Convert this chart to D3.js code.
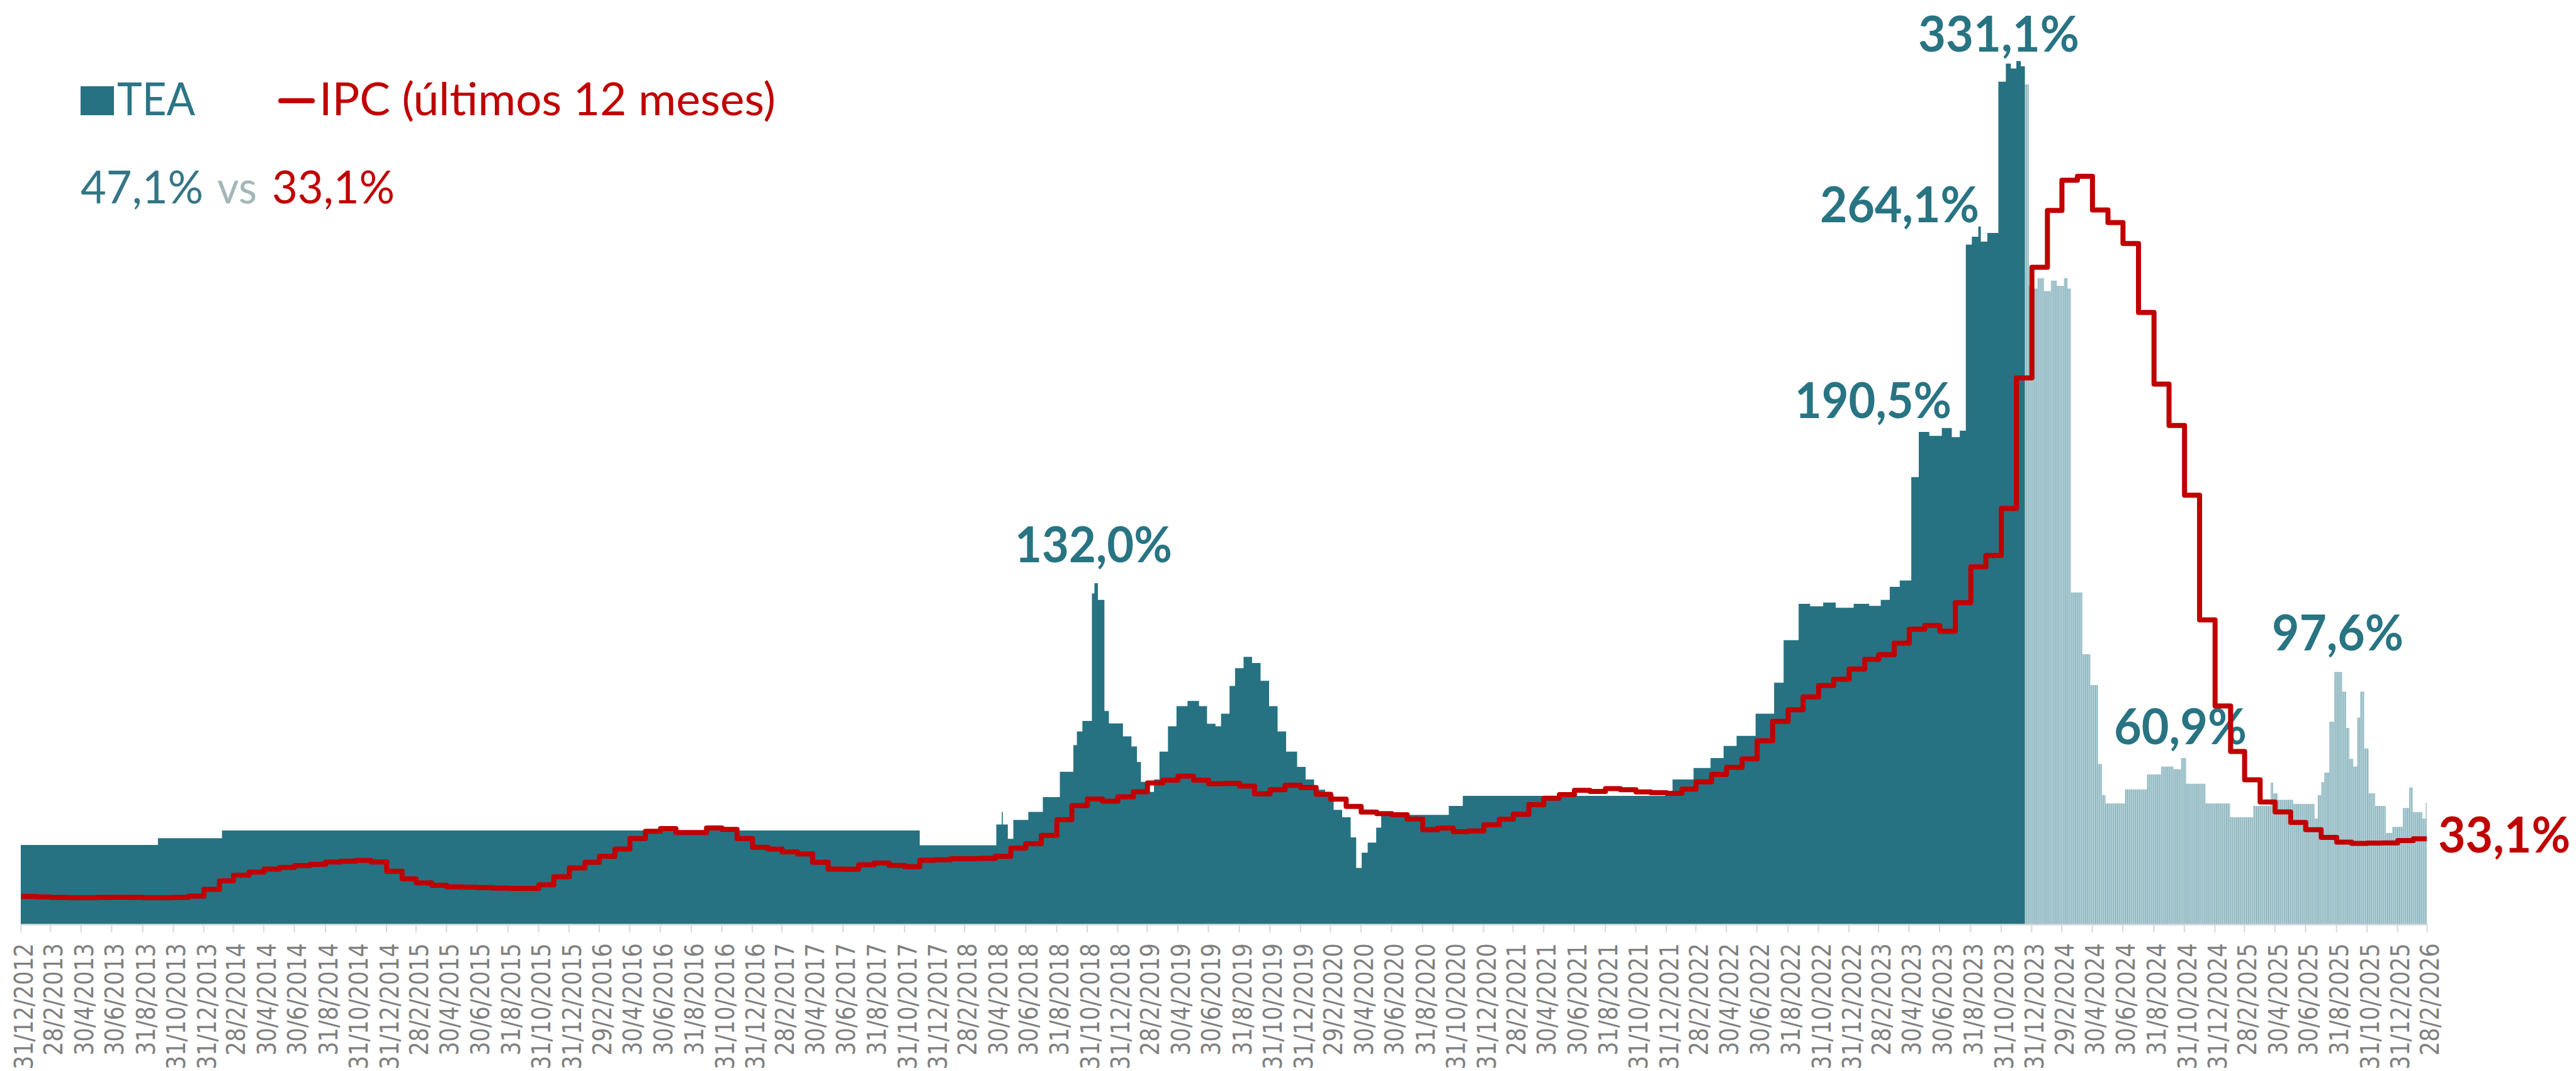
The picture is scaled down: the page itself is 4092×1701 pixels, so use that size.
<!DOCTYPE html>
<html>
<head>
<meta charset="utf-8">
<script src="https://cdn.jsdelivr.net/npm/d3@7"></script>
<style>
  html, body { margin: 0; padding: 0; background: #fff; }
  svg { display: block; }
</style>
</head>
<body>
<svg id="chart" width="4092" height="1701"></svg>
<script>
// IPC, variacion de los ultimos 12 meses, un valor por mes desde ene-2013
var ipcStart = '2013-01-01';
var ipcValues = [
    10.8, 10.6, 10.4, 10.3, 10.3, 10.4, 10.5, 10.4, 10.3, 10.3, 10.4, 10.9,
    13.5, 16.8, 19.0, 20.2, 21.4, 22.0, 22.7, 23.2, 24.1, 24.4, 24.7, 24.1,
    20.5, 17.6, 16.0, 15.1, 14.5, 14.4, 14.2, 14.0, 13.9, 13.9, 15.3, 18.4,
    21.8, 24.0, 26.3, 29.1, 33.2, 36.0, 37.0, 35.5, 35.5, 37.3, 36.7, 33.2,
    29.8, 29.1, 28.0, 27.2, 24.0, 21.4, 21.3, 23.0, 23.7, 22.8, 22.3, 24.8,
    25.0, 25.4, 25.4, 25.5, 26.3, 29.5, 31.2, 34.4, 40.5, 45.9, 48.5, 47.6,
    49.3, 51.3, 54.7, 55.8, 57.3, 55.8, 54.4, 54.5, 53.5, 50.5, 52.1, 53.8,
    52.9, 50.3, 48.4, 45.6, 43.4, 42.8, 42.4, 40.7, 36.6, 37.2, 35.8, 36.1,
    38.5, 40.7, 42.6, 46.3, 48.8, 50.2, 51.8, 51.4, 52.5, 52.1, 51.2, 50.9,
    50.7, 52.3, 55.1, 58.0, 60.7, 64.0, 71.0, 78.5, 83.0, 88.0, 92.4, 94.8,
    98.8, 102.5, 104.3, 108.8, 114.2, 115.6, 113.4, 124.4, 138.3, 142.7, 160.9, 211.4,
    254.2, 276.2, 287.9, 289.4, 276.4, 271.5, 263.4, 236.7, 209.0, 193.0, 166.0, 117.8,
    84.5, 66.9, 55.9, 47.3, 43.5, 39.4, 36.6, 33.6, 31.8, 31.3, 31.4, 31.5,
    32.4, 33.1
];

// TEA, tramo oscuro (hasta dic-2023): [fecha, valor]
var teaDark = [
    ['2012-12-31', 30.7], ['2013-10-01', 33.3], ['2014-02-06', 36.3],
    ['2017-12-01', 30.6], ['2018-05-03', 38.6], ['2018-05-14', 43.5],
    ['2018-05-16', 38.6], ['2018-05-26', 33.1], ['2018-06-06', 40.4],
    ['2018-07-06', 43.5], ['2018-08-04', 49.2], ['2018-09-07', 59.0],
    ['2018-10-04', 69.3], ['2018-10-11', 74.6], ['2018-10-22', 78.7],
    ['2018-11-10', 128.0], ['2018-11-15', 132.0], ['2018-11-22', 125.5],
    ['2018-12-05', 82.5], ['2018-12-14', 77.7], ['2019-01-11', 72.7],
    ['2019-01-28', 68.8], ['2019-02-08', 62.8], ['2019-02-16', 55.1],
    ['2019-02-25', 51.2], ['2019-03-14', 56.0], ['2019-03-25', 66.8],
    ['2019-04-11', 76.6], ['2019-04-28', 84.4], ['2019-05-20', 86.4],
    ['2019-06-12', 84.4], ['2019-06-28', 77.6], ['2019-07-15', 76.6],
    ['2019-07-26', 81.5], ['2019-08-12', 92.2], ['2019-08-23', 99.1],
    ['2019-09-09', 103.5], ['2019-09-26', 101.1], ['2019-10-13', 94.2],
    ['2019-10-30', 84.4], ['2019-11-16', 74.6], ['2019-12-03', 66.8],
    ['2019-12-25', 60.9], ['2020-01-11', 56.0], ['2020-01-28', 52.1],
    ['2020-02-19', 50.2], ['2020-03-07', 44.3], ['2020-03-24', 41.4],
    ['2020-04-10', 33.6], ['2020-04-21', 21.8], ['2020-05-02', 27.7],
    ['2020-05-14', 31.6], ['2020-05-31', 37.4], ['2020-06-10', 42.3],
    ['2020-10-23', 45.8], ['2020-11-20', 49.7], ['2022-01-13', 56.0],
    ['2022-02-24', 60.5], ['2022-03-30', 64.3], ['2022-04-25', 69.0],
    ['2022-05-21', 72.9], ['2022-06-28', 81.5], ['2022-08-04', 93.5],
    ['2022-08-23', 109.9], ['2022-09-22', 124.0], ['2022-10-15', 123.0],
    ['2022-11-10', 124.5], ['2022-12-05', 122.5], ['2023-01-10', 124.0],
    ['2023-02-10', 123.2], ['2023-03-05', 125.5], ['2023-03-23', 130.6],
    ['2023-04-12', 133.0], ['2023-05-05', 173.0], ['2023-05-20', 190.5],
    ['2023-06-10', 189.0], ['2023-07-05', 192.0], ['2023-07-25', 188.5],
    ['2023-08-10', 191.0], ['2023-08-22', 263.0], ['2023-09-03', 266.0],
    ['2023-09-16', 270.0], ['2023-09-21', 264.1], ['2023-10-04', 267.5],
    ['2023-10-26', 326.0], ['2023-11-10', 333.0], ['2023-11-20', 331.1],
    ['2023-12-01', 334.0], ['2023-12-10', 332.0]
];
var teaDarkEnd = '2023-12-18';

// TEA, tramo claro (desde dic-2023)
var teaLight = [
    ['2023-12-18', 325.0], ['2023-12-26', 247.0], ['2024-01-01', 246.0],
    ['2024-01-12', 250.0], ['2024-01-25', 245.0], ['2024-02-08', 249.0],
    ['2024-02-20', 247.0], ['2024-03-05', 250.0], ['2024-03-12', 246.0],
    ['2024-03-19', 128.4], ['2024-04-11', 104.5], ['2024-04-27', 92.6],
    ['2024-05-12', 62.0], ['2024-05-20', 50.0], ['2024-05-27', 46.8],
    ['2024-07-05', 52.2], ['2024-08-18', 58.0], ['2024-09-15', 61.0],
    ['2024-10-10', 60.0], ['2024-10-25', 64.3], ['2024-11-04', 54.4],
    ['2024-12-13', 46.8], ['2025-01-31', 41.4], ['2025-03-18', 45.8],
    ['2025-04-22', 54.8], ['2025-04-27', 50.7], ['2025-05-06', 48.2],
    ['2025-06-06', 46.6], ['2025-07-19', 40.9], ['2025-07-25', 50.0],
    ['2025-08-01', 55.0], ['2025-08-07', 58.7], ['2025-08-17', 78.4],
    ['2025-08-27', 97.6], ['2025-09-12', 90.0], ['2025-09-20', 76.0],
    ['2025-09-26', 64.0], ['2025-10-04', 61.0], ['2025-10-12', 80.0],
    ['2025-10-18', 90.0], ['2025-10-26', 68.0], ['2025-11-04', 50.7],
    ['2025-11-17', 45.8], ['2025-12-08', 35.3], ['2025-12-21', 37.7],
    ['2026-01-11', 45.0], ['2026-01-24', 53.0], ['2026-01-31', 43.4],
    ['2026-02-19', 40.9], ['2026-02-26', 47.1]
];
var axisStart = '2012-12-31';
var axisEnd = '2026-02-28';

var annotations = [
    {text: '132,0%', x: 1612, y: 893, w: 250},
    {text: '190,5%', x: 2851, y: 664, w: 249},
    {text: '264,1%', x: 2891, y: 353, w: 253},
    {text: '331,1%', x: 3047, y: 82, w: 256},
    {text: '60,9%', x: 3358, y: 1182, w: 211},
    {text: '97,6%', x: 3609, y: 1033, w: 209}
];

var TEAL = '#267282';
var RED = '#c00000';

var parse = d3.timeParse('%Y-%m-%d');
var fmtTick = d3.timeFormat('%-d/%-m/%Y');
var es = d3.formatLocale({decimal: ',', thousands: '.', grouping: [3], currency: ['$', '']});
var pct = function (v) { return es.format('.1f')(v) + '%'; };

function toPoints(rows, endDate) {
    var pts = rows.map(function (r) { return {date: parse(r[0]), value: r[1]}; });
    pts.push({date: parse(endDate), value: rows[rows.length - 1][1]});
    return pts;
}

var dark = toPoints(teaDark, teaDarkEnd);
var light = toPoints(teaLight, axisEnd);
var ipc = ipcValues.map(function (v, i) {
    return {date: d3.timeMonth.offset(parse(ipcStart), i), value: v};
});
ipc.push({date: parse(axisEnd), value: ipcValues[ipcValues.length - 1]});

var svg = d3.select('#chart');

var x = d3.scaleTime()
    .domain([parse(axisStart), parse(axisEnd)])
    .range([33, 3855]);
var y = d3.scaleLinear()
    .domain([0, 350])
    .range([1468, 31.25]);

var defs = svg.append('defs');
var pat = defs.append('pattern')
    .attr('id', 'stripes')
    .attr('patternUnits', 'userSpaceOnUse')
    .attr('width', 3.2)
    .attr('height', 20);
pat.append('rect').attr('width', 3.2).attr('height', 20).attr('fill', '#b3cfd5');
pat.append('rect').attr('width', 0.9).attr('height', 20).attr('fill', '#79a9b4');

var area = d3.area()
    .curve(d3.curveStepAfter)
    .x(function (d) { return x(d.date); })
    .y0(y(0))
    .y1(function (d) { return y(d.value); });

svg.append('path')
    .datum(light)
    .attr('d', area)
    .attr('fill', 'url(#stripes)');

svg.append('path')
    .datum(dark)
    .attr('d', area)
    .attr('fill', TEAL);

// etiquetas de valores
svg.append('g')
    .selectAll('text')
    .data(annotations)
  .enter()
    .append('text')
    .attr('x', function (d) { return d.x; })
    .attr('y', function (d) { return d.y; })
    .attr('textLength', function (d) { return d.w; })
    .attr('lengthAdjust', 'spacingAndGlyphs')
    .attr('font-family', 'Lato, "Noto Sans", sans-serif')
    .attr('font-weight', 700)
    .attr('font-size', 78)
    .attr('fill', '#287483')
    .text(function (d) { return d.text; });

var line = d3.line()
    .curve(d3.curveStepAfter)
    .x(function (d) { return x(d.date); })
    .y(function (d) { return y(d.value); });

svg.append('path')
    .datum(ipc)
    .attr('d', line)
    .attr('fill', 'none')
    .attr('stroke', RED)
    .attr('stroke-width', 8)
    .attr('stroke-linejoin', 'round');

var lastIpc = ipcValues[ipcValues.length - 1];
var lastTea = teaLight[teaLight.length - 1][1];

svg.append('text')
    .attr('x', 3873)
    .attr('y', 1354)
    .attr('textLength', 210)
    .attr('lengthAdjust', 'spacingAndGlyphs')
    .attr('font-family', 'Lato, "Noto Sans", sans-serif')
    .attr('font-weight', 700)
    .attr('font-size', 78)
    .attr('fill', RED)
    .text(pct(lastIpc));

// eje x
var ticks = d3.timeMonth.range(new Date(2013, 0, 1), new Date(2026, 2, 2), 2)
    .map(function (d) { return d3.timeDay.offset(d, -1); });

var axis = svg.append('g')
    .attr('transform', 'translate(0,1468)')
    .call(d3.axisBottom(x)
        .tickValues(ticks)
        .tickFormat(fmtTick)
        .tickSize(13)
        .tickSizeOuter(0));

axis.select('.domain')
    .attr('stroke', '#d4d8d9')
    .attr('stroke-width', 2.5);
axis.selectAll('.tick line')
    .attr('stroke', '#d9d9d9')
    .attr('stroke-width', 2);
axis.selectAll('.tick text')
    .attr('x', 0)
    .attr('y', 0)
    .attr('dy', '0.46em')
    .attr('text-anchor', 'end')
    .attr('transform', 'translate(0,30) rotate(-90) scale(0.85,1)')
    .attr('font-family', '"DejaVu Sans", sans-serif')
    .attr('font-size', 41)
    .attr('fill', '#808080');

// leyenda
var legend = svg.append('g')
    .attr('font-family', 'Lato, "Noto Sans", sans-serif')
    .attr('font-size', 71);

legend.append('rect')
    .attr('x', 128).attr('y', 137)
    .attr('width', 53).attr('height', 46)
    .attr('fill', TEAL);
legend.append('text')
    .attr('x', 186).attr('y', 183)
    .attr('textLength', 124).attr('lengthAdjust', 'spacingAndGlyphs')
    .attr('fill', '#2b7585')
    .text('TEA');
legend.append('line')
    .attr('x1', 446).attr('x2', 496)
    .attr('y1', 160).attr('y2', 160)
    .attr('stroke', RED)
    .attr('stroke-width', 8)
    .attr('stroke-linecap', 'round');
legend.append('text')
    .attr('x', 507).attr('y', 183)
    .attr('textLength', 725).attr('lengthAdjust', 'spacingAndGlyphs')
    .attr('fill', RED)
    .text('IPC (últimos 12 meses)');

legend.append('text')
    .attr('x', 128).attr('y', 323)
    .attr('textLength', 195).attr('lengthAdjust', 'spacingAndGlyphs')
    .attr('fill', '#347686')
    .text(pct(lastTea));
legend.append('text')
    .attr('x', 345).attr('y', 323)
    .attr('textLength', 63).attr('lengthAdjust', 'spacingAndGlyphs')
    .attr('fill', '#a3b6b8')
    .text('vs');
legend.append('text')
    .attr('x', 432).attr('y', 323)
    .attr('textLength', 195).attr('lengthAdjust', 'spacingAndGlyphs')
    .attr('fill', RED)
    .text(pct(lastIpc));
</script>
</body>
</html>
